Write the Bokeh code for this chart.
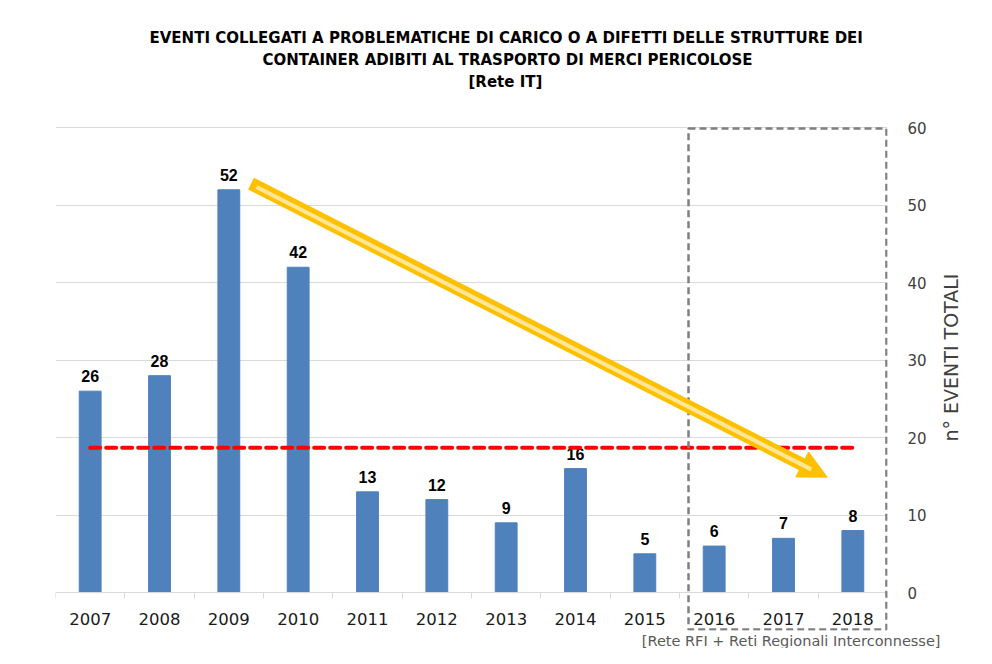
import math
from bokeh.plotting import figure
from bokeh.models import (Range1d, FixedTicker, ColumnDataSource, BoxAnnotation,
                          Arrow, NormalHead, Title, LinearAxis)
from bokeh.core.properties import value
from bokeh.embed import file_html
from bokeh.resources import INLINE

# ---- data ----
years = ["2007", "2008", "2009", "2010", "2011", "2012",
         "2013", "2014", "2015", "2016", "2017", "2018"]
events = [26, 28, 52, 42, 13, 12, 9, 16, 5, 6, 7, 8]
mean_events = 18.7
y_ticks = [0, 10, 20, 30, 40, 50, 60]
grid_ticks = [10, 20, 30, 40, 50, 60]

title_lines = [
    "EVENTI COLLEGATI A PROBLEMATICHE DI CARICO O A DIFETTI DELLE STRUTTURE DEI",
    "CONTAINER ADIBITI AL TRASPORTO DI MERCI PERICOLOSE",
    "[Rete IT]",
]
y_label = "n° EVENTI TOTALI"
source_note = "[Rete RFI + Reti Regionali Interconnesse]"

# ---- positions ----
x_pos = [i + 0.5 for i in range(len(years))]
boundaries = list(range(len(years) + 1))
y_label_start = 19.5   # where the vertical axis title begins (reads upward)

src = ColumnDataSource(dict(x=x_pos, events=events, label=[str(v) for v in events]))

p = figure(width=976, height=648,
           x_range=Range1d(0, len(years)), y_range=Range1d(-4.9, 60.3),
           y_axis_location="right",
           output_backend="svg", toolbar_location=None,
           min_border_left=55, min_border_right=84,
           min_border_top=125, min_border_bottom=16)
p.outline_line_color = None
p.background_fill_color = "white"
p.border_fill_color = "white"

# spacer between frame and the title block
p.add_layout(Title(text=" ", standoff=0, text_font_size="29.5px"), "above")
# titles (added innermost first)
for txt, off, so in [(title_lines[2], 413, 0), (title_lines[1], 207, 4), (title_lines[0], 94, 0)]:
    p.add_layout(Title(text=txt, align="left", offset=off, standoff=so,
                       text_font="DejaVu Sans", text_font_size="15px",
                       text_font_style="bold", text_color="black"), "above")

p.add_layout(Title(text=source_note, align="right", offset=-53, standoff=0,
                   text_font="DejaVu Sans", text_font_size="14.5px",
                   text_font_style="normal", text_color="#595959"), "below")

# grid
p.xgrid.visible = False
p.ygrid.ticker = FixedTicker(ticks=grid_ticks)
p.ygrid.grid_line_color = "#d9d9d9"
p.ygrid.grid_line_width = 1

# x axis, drawn at y = 0
xa = p.xaxis[0]
xa.fixed_location = 0
xa.ticker = FixedTicker(ticks=x_pos, minor_ticks=boundaries)
xa.major_label_overrides = {x: y for x, y in zip(x_pos, years)}
xa.axis_line_color = "#d9d9d9"
xa.major_tick_line_color = None
xa.major_tick_out = 0
xa.minor_tick_line_color = "#d9d9d9"
xa.minor_tick_out = 6
xa.minor_tick_in = 0
xa.major_label_standoff = 14
xa.major_label_text_font = "DejaVu Sans"
xa.major_label_text_font_size = "16.5px"
xa.major_label_text_color = "#1a1a1a"

# y axis (right)
ya = p.yaxis[0]
ya.ticker = FixedTicker(ticks=y_ticks)
ya.axis_line_color = None
ya.major_tick_line_color = None
ya.minor_tick_line_color = None
ya.major_tick_out = 0
ya.major_label_standoff = 20
ya.major_label_text_font = "DejaVu Sans"
ya.major_label_text_font_size = "15px"
ya.major_label_text_color = "#404040"

# vertical axis title, reading bottom to top
ta = LinearAxis(ticker=FixedTicker(ticks=[y_label_start]),
                major_label_overrides={y_label_start: y_label},
                major_label_orientation=math.pi / 2,
                axis_line_color=None, major_tick_line_color=None,
                minor_tick_line_color=None, major_tick_out=0,
                major_label_standoff=22,
                major_label_text_font="DejaVu Sans",
                major_label_text_font_size="19px",
                major_label_text_color="#404040")
p.add_layout(ta, "right")

# bars
p.vbar(x="x", top="events", width=0.315, source=src,
       fill_color="#4F81BD", line_color="#4F81BD")

# value labels
p.text(x="x", y="events", text="label", source=src,
       text_align="center", text_baseline="alphabetic", y_offset=-15,
       text_font=value("Liberation Sans"), text_font_style="bold",
       text_font_size="16px", text_color="black")

# mean line
p.line(x=[x_pos[0], x_pos[-1]], y=[mean_events, mean_events],
       line_color="#FF0000", line_width=4, line_dash="10 6", line_cap="round")

# dashed box (2016-2018)
p.add_layout(BoxAnnotation(left=9.13, right=11.985, top=59.9, bottom=-4.76,
                           fill_color=None, fill_alpha=0, line_color="#7f7f7f",
                           line_alpha=1.0, line_width=2.5, line_dash="7 4"))

# trend arrow
p.add_layout(Arrow(x_start=2.82, y_start=52.8, x_end=11.13, y_end=14.9,
                   line_color="#FFC000", line_width=13,
                   end=NormalHead(size=28, fill_color="#FFC000", line_color="#FFC000")))
p.add_layout(Arrow(x_start=2.9, y_start=52.35, x_end=10.9, y_end=15.9,
                   line_color="#FFE699", line_width=4, end=None))

open("out.html", "w").write(file_html(p, INLINE))
